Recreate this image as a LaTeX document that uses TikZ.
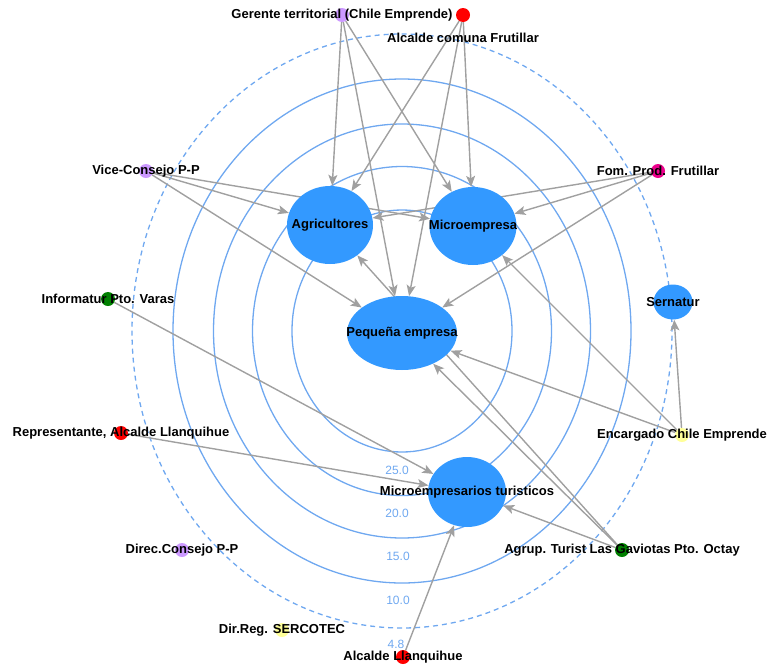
\documentclass[tikz,border=0pt]{standalone}
\usepackage{fontspec}
\setsansfont{Liberation Sans}
\usetikzlibrary{shapes.geometric,arrows.meta,backgrounds}
\definecolor{ringblue}{HTML}{6FA8F0}
\definecolor{bubble}{HTML}{3399FF}
\definecolor{edgegray}{HTML}{A0A0A0}
\definecolor{lilac}{HTML}{CC99FF}
\definecolor{pale}{HTML}{FFFF99}
\definecolor{leaf}{HTML}{008000}
\begin{document}
\begin{tikzpicture}[x=1pt,y=-1pt,
        font=\sffamily\bfseries\fontsize{13}{14}\selectfont,
        bub/.style={ellipse, fill=bubble, inner sep=0pt},
        actor/.style={circle, fill=#1, minimum size=14pt, inner sep=0pt},
        link/.style={draw=edgegray, line width=1.4pt, -{Stealth[length=11pt,width=9pt,inset=2.5pt]}},
        ring/.style={draw=ringblue, line width=1.3pt},
        ringlab/.style={text=ringblue, font=\sffamily\fontsize{12}{13}\selectfont}]
        \useasboundingbox (0,0) rectangle (784,670);
        % organisations
        \node[bub, minimum width=86pt, minimum height=78pt, label=center:Agricultores] (agri) at (330,225) {};
        \node[bub, minimum width=87pt, minimum height=78pt, label=center:Microempresa] (micro) at (473,226) {};
        \node[bub, minimum width=110pt, minimum height=74pt, label=center:{Pequeña empresa}] (peq) at (402,333) {};
        \node[bub, minimum width=78pt, minimum height=70pt, label=center:{Microempresarios turisticos}] (mtur) at (467,492) {};
        \node[bub, minimum width=39pt, minimum height=35pt, label=center:Sernatur] (sern) at (673,302) {};
        % actors
        \node[actor=lilac, label=center:{Gerente territorial (Chile Emprende)}] (ger) at (342,15) {};
        \node[actor=red, label={[yshift=-23pt]center:Alcalde comuna Frutillar}] (afru) at (463,15) {};
        \node[actor=lilac, label=center:{Vice-Consejo P-P}] (vice) at (146,171) {};
        \node[actor=magenta, label=center:{Fom. Prod. Frutillar}] (fom) at (658,171) {};
        \node[actor=leaf, label=center:{Informatur Pto. Varas}] (info) at (108,299) {};
        \node[actor=red, label={center:Representante, Alcalde Llanquihue}] (repr) at (121,433) {};
        \node[actor=lilac, label=center:{Direc.Consejo P-P}] (direc) at (182,550) {};
        \node[actor=pale, label=center:{Dir.Reg. SERCOTEC}] (serco) at (282,630) {};
        \node[actor=red, label=center:{Alcalde Llanquihue}] (allan) at (403,657) {};
        \node[actor=pale, label=center:{Encargado Chile Emprende}] (encar) at (682,435) {};
        \node[actor=leaf, label=center:{Agrup. Turist Las Gaviotas Pto. Octay}] (agrup) at (622,550) {};
        % ring values
        \node[ringlab] (v25) at (397,470) {25.0};
        \node[ringlab] (v20) at (397,513) {20.0};
        \node[ringlab] (v15) at (398,556) {15.0};
        \node[ringlab] (v10) at (398,600) {10.0};
        \node[ringlab] (v48) at (396,644) {4.8};
        \begin{scope}[on background layer]
            % rings
            \draw[ring] (402,331) ellipse [x radius=110pt, y radius=121pt];
            \draw[ring] (402,331) ellipse [x radius=149.5pt, y radius=164.5pt];
            \draw[ring] (402,331) ellipse [x radius=188.5pt, y radius=207pt];
            \draw[ring] (402,331) ellipse [x radius=229pt, y radius=252pt];
            \draw[ring, dash pattern=on 5pt off 4pt] (402,331) ellipse [x radius=270pt, y radius=297pt];
            % ties
            \draw[link] (ger) -- (agri);
            \draw[link] (ger) -- (peq);
            \draw[link] (ger) -- (micro);
            \draw[link] (afru) -- (agri);
            \draw[link] (afru) -- (micro);
            \draw[link] (afru) -- (peq);
            \draw[link] (vice) -- (agri);
            \draw[link] (vice) -- (micro);
            \draw[link] (vice) -- (peq);
            \draw[link] (fom) -- (agri);
            \draw[link] (fom) -- (micro);
            \draw[link] (fom) -- (peq);
            \draw[link] (info) -- (mtur);
            \draw[link] (repr) -- (mtur);
            \draw[link] (allan) -- (mtur);
            \draw[link] (encar) -- (sern);
            \draw[link] (encar) -- (micro);
            \draw[link] (encar) -- (peq);
            \draw[link] (agrup) -- (mtur);
            \draw[link] (agrup) -- (peq);
            \draw[link] (agrup) -- (agri);
        \end{scope}
    \end{tikzpicture}
\end{document}
